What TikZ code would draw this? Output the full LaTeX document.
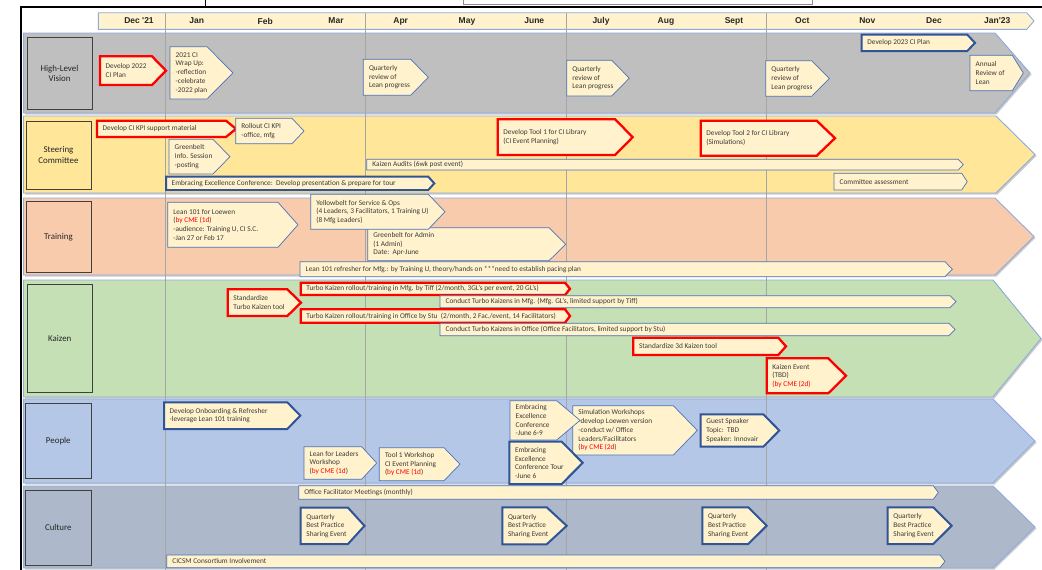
\documentclass[tikz,border=0pt]{standalone}
\usepackage{fontspec}
\setmainfont{Carlito}
\newfontfamily\hdrfont{Liberation Sans}
\usetikzlibrary{shadows}
\definecolor{laneA}{HTML}{BFBFBF}
\definecolor{laneB}{HTML}{FFE699}
\definecolor{laneC}{HTML}{F8CBAD}
\definecolor{laneD}{HTML}{C5E0B4}
\definecolor{laneE}{HTML}{B4C7E7}
\definecolor{laneF}{HTML}{ADB9CA}
\definecolor{laneedge}{HTML}{8FAADC}
\definecolor{taskfill}{HTML}{FFF2CC}
\definecolor{thinblue}{HTML}{4A72B8}
\definecolor{darkblue}{HTML}{2F5597}
\definecolor{cmered}{HTML}{FF0000}
\definecolor{txt}{HTML}{3A3A3A}
\definecolor{qline}{HTML}{A6A6A6}
\newcommand{\rtxt}[1]{\textcolor{cmered}{#1}}
\newcommand{\tbox}[8]{%
  \draw[#2] (#3,#4) -- (#5,#4) -- (#6,{(#4+#7)/2}) -- (#5,#7) -- (#3,#7) -- cycle;
  \node[tasktext] (#1) at ({#3+5.5},{(#4+#7)/2}) {#8};
}
\newcommand{\lanepath}[6]{%
  \draw[lane, fill=#1] (23.5,#2) -- (#4,#2) -- (#5,{(#2+#3)/2}) -- (#4,#3) -- (23.5,#3) -- cycle;
}
\begin{document}
\begin{tikzpicture}[x=1pt,y=-1pt,
  lane/.style={draw=laneedge, line width=0.9pt,
    drop shadow={shadow xshift=1.5pt, shadow yshift=-1.5pt, fill=black, opacity=0.2}},
  lanebox/.style={draw=black!75, line width=0.9pt, inner sep=1pt, align=center,
    font=\fontsize{8.9}{10.6}\selectfont, text=black!85},
  tasktext/.style={anchor=west, align=left, inner sep=0pt,
    font=\fontsize{7.3}{8.7}\selectfont, text=txt},
  thinbox/.style={draw=thinblue, line width=0.7pt, fill=taskfill},
  bluebox/.style={draw=darkblue, line width=2pt, fill=taskfill, line join=miter},
  redbox/.style={draw=cmered, line width=2.3pt, fill=taskfill, line join=miter},
  month/.style={font=\hdrfont\bfseries\fontsize{8.5}{10}\selectfont, text=black!85, inner sep=0pt}
]
\useasboundingbox (0,0) rectangle (1042,570);
\fill[white] (0,0) rectangle (1042,570);

% frame
\draw[line width=1.6pt] (21,570) -- (21,7) -- (1042,7);
\draw[line width=0.8pt] (205.5,0) -- (205.5,7);
\draw[black!45, line width=0.6pt] (463,-1) rectangle (812,4.5);

% header
\draw[draw=laneedge, line width=0.9pt, fill=taskfill] (98.3,12.7) -- (1026.7,12.7) -- (1034,21) -- (1026.7,29.3) -- (98.3,29.3) -- cycle;
\node[month] (m1) at (139,21) {Dec '21};
\node[month] (m2) at (196.7,21) {Jan};
\node[month] (m3) at (265.3,21) {Feb};
\node[month] (m4) at (336,21) {Mar};
\node[month] (m5) at (400.7,21) {Apr};
\node[month] (m6) at (467,21) {May};
\node[month] (m7) at (534.3,21) {June};
\node[month] (m8) at (601,21) {July};
\node[month] (m9) at (666,21) {Aug};
\node[month] (m10) at (734,21) {Sept};
\node[month] (m11) at (802.3,21) {Oct};
\node[month] (m12) at (867.3,21) {Nov};
\node[month] (m13) at (934,21) {Dec};
\node[month] (m14) at (997.3,21) {Jan'23};

% lanes
\lanepath{laneA}{33}{113}{995}{1030}{}
\lanepath{laneB}{116}{193}{996}{1035}{}
\lanepath{laneC}{198}{275}{995}{1034}{}
\lanepath{laneD}{280}{397}{993}{1041}{}
\lanepath{laneE}{399}{483}{993}{1035}{}
\lanepath{laneF}{486}{568}{993}{1035}{}

% quarter lines
\foreach \qx in {165.5,365.5,566,766.5}
  \draw[qline, line width=0.8pt] (\qx,13) -- (\qx,570);

% lane labels
\node[lanebox, fill=laneA, minimum width=65, minimum height=71.3] (lbl1) at (59.5,73.35) {High-Level\\Vision};
\node[lanebox, fill=laneB, minimum width=65, minimum height=68] (lbl2) at (58.5,155) {Steering\\Committee};
\node[lanebox, fill=laneC, minimum width=65, minimum height=70.6] (lbl3) at (58.5,237) {Training};
\node[lanebox, fill=laneD, minimum width=65.7, minimum height=108] (lbl4) at (59.8,338.3) {Kaizen};
\node[lanebox, fill=laneE, minimum width=65.3, minimum height=75.3] (lbl5) at (58.3,440.7) {People};
\node[lanebox, fill=laneF, minimum width=65.3, minimum height=75.7] (lbl6) at (58.3,527.8) {Culture};

% High-Level Vision
\tbox{hv1}{redbox}{100}{56.3}{152}{166}{85}{Develop 2022\\CI Plan}
\tbox{hv2}{thinbox}{170}{46.7}{207}{233}{99}{2021 CI\\Wrap Up:\\-reflection\\-celebrate\\-2022 plan}
\tbox{hv3}{thinbox}{363.3}{59.3}{410.7}{428.3}{95.3}{Quarterly\\review of\\Lean progress}
\tbox{hv4}{thinbox}{566.7}{60.3}{611.7}{629.3}{96}{Quarterly\\review of\\Lean progress}
\tbox{hv5}{thinbox}{765.7}{60.7}{811.7}{829.3}{96.3}{Quarterly\\review of\\Lean progress}
\tbox{hv6}{bluebox}{861.7}{34.7}{967.3}{975}{51}{Develop 2023 CI Plan}
\tbox{hv7}{thinbox}{970}{55.3}{1012.3}{1023.3}{90.7}{Annual\\Review of\\Lean}

% Steering Committee
\tbox{sc1}{redbox}{97}{120.7}{226}{236}{137}{Develop CI KPI support material}
\tbox{sc2}{thinbox}{235.7}{118.3}{292}{304}{143.7}{Rollout CI KPI\\-office, mfg}
\tbox{sc3}{thinbox}{169}{139.3}{213}{230}{174}{Greenbelt\\Info. Session\\-posting}
\tbox{sc4}{redbox}{497.7}{119.3}{615}{632.7}{155}{Develop Tool 1 for CI Library\\(CI Event Planning)}
\tbox{sc5}{redbox}{700.7}{120.7}{816.7}{835}{155.7}{Develop Tool 2 for CI Library\\(Simulations)}
\tbox{sc6}{thinbox}{366.7}{159.3}{958.3}{963.3}{170}{Kaizen Audits (6wk post event)}
\tbox{sc7}{bluebox}{166}{176.7}{428.3}{434.3}{190}{Embracing Excellence Conference:\ \ Develop presentation \& prepare for tour}
\tbox{sc8}{thinbox}{834}{173.3}{961.7}{967.3}{190}{Committee assessment}

% Training
\tbox{tr1}{thinbox}{167.7}{202.3}{278}{298}{247.3}{Lean 101 for Loewen\\(\rtxt{by CME (1d})\\-audience: Training U, CI S.C.\\-Jan 27 or Feb 17}
\tbox{tr3}{thinbox}{367.7}{227.7}{549}{565.7}{260.7}{Greenbelt for Admin\\(1 Admin)\\Date:\ \ Apr-June}
\tbox{tr2}{thinbox}{310.7}{194.3}{428.3}{445}{229.3}{Yellowbelt for Service \& Ops\\(4 Leaders, 3 Facilitators, 1 Training U)\\(8 Mfg Leaders)}
\tbox{tr4}{thinbox}{300}{261.7}{945}{952.3}{276.7}{Lean 101 refresher for Mfg.: by Training U, theory/hands on ***need to establish pacing plan}

% Kaizen
\tbox{kz1}{redbox}{227.7}{289.3}{287.3}{301}{316}{Standardize\\Turbo Kaizen tool}
\tbox{kz2}{redbox}{300.7}{282.7}{565}{570}{295}{Turbo Kaizen rollout/training in Mfg. by Tiff (2/month, 3GL's per event, 20 GL's)}
\tbox{kz3}{thinbox}{440}{295.7}{950}{956}{307.7}{Conduct Turbo Kaizens in Mfg. (Mfg. GL's, limited support by Tiff)}
\tbox{kz4}{redbox}{300.7}{309.3}{565}{570}{322.7}{Turbo Kaizen rollout/training in Office by Stu\ \ (2/month, 2 Fac./event, 14 Facilitators)}
\tbox{kz5}{thinbox}{440}{323.3}{949}{955}{335.7}{Conduct Turbo Kaizens in Office (Office Facilitators, limited support by Stu)}
\tbox{kz6}{redbox}{633.3}{337.7}{778.3}{786}{355}{Standardize 3d Kaizen tool}
\tbox{kz7}{redbox}{766.7}{358.3}{828.3}{846}{393.3}{Kaizen Event\\(TBD)\\\rtxt{(by CME (2d)}}

% People
\tbox{pp1}{bluebox}{164}{402.3}{287.3}{300.3}{429}{Develop Onboarding \& Refresher\\-leverage Lean 101 training}
\tbox{pp2}{thinbox}{304}{446.7}{361.7}{376.7}{479.3}{Lean for Leaders\\Workshop\\(\rtxt{by CME (1d})}
\tbox{pp3}{thinbox}{379.3}{447.7}{444}{460}{480.7}{Tool 1 Workshop\\CI Event Planning\\(\rtxt{by CME (1d})}
\tbox{pp6}{thinbox}{572.7}{405.7}{673.3}{697.3}{455}{Simulation Workshops\\-develop Loewen version\\-conduct w/ Office\\Leaders/Facilitators\\(\rtxt{by CME (2d})}
\tbox{pp4}{thinbox}{510}{400.7}{556.7}{580}{440}{Embracing\\Excellence\\Conference\\-June 6-9}
\tbox{pp5}{bluebox}{509.3}{441.7}{561.7}{582.7}{484}{Embracing\\Excellence\\Conference Tour\\-June 6}
\tbox{pp7}{bluebox}{700.7}{414.3}{763.3}{779.3}{446.7}{Guest Speaker\\Topic:\ \ TBD\\Speaker: Innovair}

% Culture
\tbox{cu1}{thinbox}{298.7}{485.7}{933.3}{938.3}{499.3}{Office Facilitator Meetings (monthly)}
\tbox{cu2}{bluebox}{300.7}{507.7}{348}{364.5}{544}{Quarterly\\Best Practice\\Sharing Event}
\tbox{cu3}{bluebox}{502.3}{507.3}{546.7}{566.7}{544.3}{Quarterly\\Best Practice\\Sharing Event}
\tbox{cu4}{bluebox}{702.3}{507.3}{748.3}{766.7}{544}{Quarterly\\Best Practice\\Sharing Event}
\tbox{cu5}{bluebox}{887.7}{507.3}{933.3}{951.7}{544}{Quarterly\\Best Practice\\Sharing Event}
\tbox{cu6}{thinbox}{166.7}{555}{940}{945}{567.7}{CICSM Consortium Involvement}
\end{tikzpicture}
\end{document}
